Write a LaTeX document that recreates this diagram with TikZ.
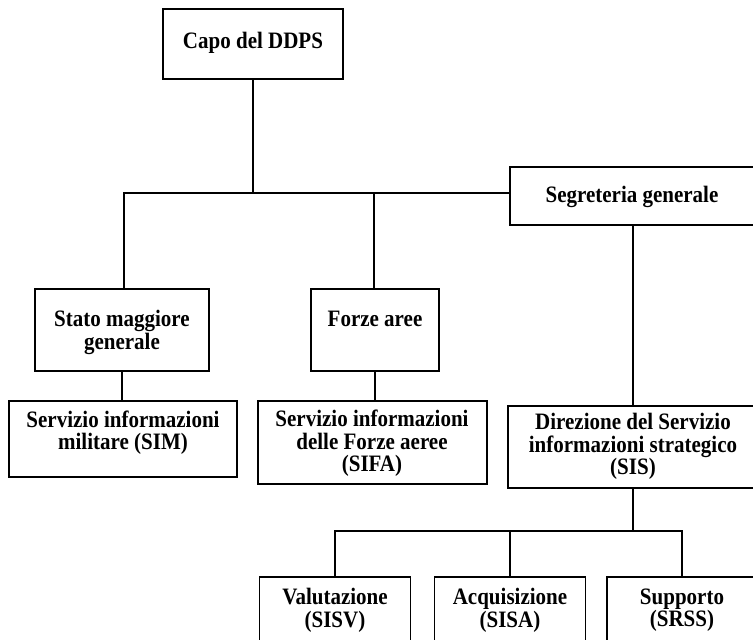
\documentclass[tikz,border=0pt]{standalone}
\usepackage{fontspec}
\setmainfont{Liberation Serif}
\newcommand\txt[1]{\scalebox{1}[1.12]{\begin{tabular}{@{}c@{}}#1\end{tabular}}}
\begin{document}
\begin{tikzpicture}[x=1pt,y=-1pt,
  box/.style={draw, line width=1.4pt, inner sep=0pt},
  lbl/.style={font=\bfseries\fontsize{21}{18}\selectfont, inner sep=0pt},
  conn/.style={line width=1.4pt}]
\useasboundingbox (0,0) rectangle (753,640);
\clip (0,0) rectangle (753,640);
% boxes
\node[box, minimum width=180pt, minimum height=70pt] (capo) at (253,44) {};
\node[box, minimum width=248pt, minimum height=58pt] (segr) at (634,196) {};
\node[box, minimum width=174pt, minimum height=82pt] (stato) at (122,330) {};
\node[box, minimum width=128pt, minimum height=82pt] (forze) at (375,330) {};
\node[box, minimum width=228pt, minimum height=76pt] (sim) at (123,439) {};
\node[box, minimum width=229pt, minimum height=83pt] (sifa) at (372.5,442.5) {};
\node[box, minimum width=250pt, minimum height=82pt] (dir) at (633,447) {};
\node[box, minimum width=151pt, minimum height=103pt] (val) at (335,628.5) {};
\node[box, minimum width=151pt, minimum height=103pt] (acq) at (510,628.5) {};
\node[box, minimum width=150pt, minimum height=103pt] (sup) at (682,628.5) {};
% texts
\node[lbl] (capo-t) at (253,43) {\txt{Capo del DDPS}};
\node[lbl] (segr-t) at (632,197) {\txt{Segreteria generale}};
\node[lbl] (stato-t) at (122,333) {\txt{Stato maggiore\\generale}};
\node[lbl] (forze-t) at (375,322) {\txt{Forze aree}};
\node[lbl] (sim-t) at (123,433) {\txt{Servizio informazioni\\militare (SIM)}};
\node[lbl] (sifa-t) at (372,444) {\txt{Servizio informazioni\\delle Forze aeree\\(SIFA)}};
\node[lbl] (dir-t) at (633,447) {\txt{Direzione del Servizio\\informazioni strategico\\(SIS)}};
\node[lbl] (val-t) at (335,611) {\txt{Valutazione\\(SISV)}};
\node[lbl] (acq-t) at (510,611) {\txt{Acquisizione\\(SISA)}};
\node[lbl] (sup-t) at (682,611) {\txt{Supporto\\(SRSS)}};
% connectors
\coordinate (bc) at (253,193);
\coordinate (bl) at (124,193);
\coordinate (bm) at (374,193);
\coordinate (bb) at (632,531);
\draw[conn] (capo.south) -- (bc);
\draw[conn] (bl |- stato.north) -- (bl) -- (segr.west |- bl);
\draw[conn] (bm) -- (bm |- forze.north);
\draw[conn] (stato.south) -- (stato.south |- sim.north);
\draw[conn] (forze.south) -- (forze.south |- sifa.north);
\draw[conn] (dir.north |- segr.south) -- (dir.north);
\draw[conn] (dir.south) -- (dir.south |- bb);
\draw[conn] (val.north) -- (val.north |- bb) -| (sup.north);
\draw[conn] (acq.north) -- (acq.north |- bb);
\end{tikzpicture}
\end{document}
